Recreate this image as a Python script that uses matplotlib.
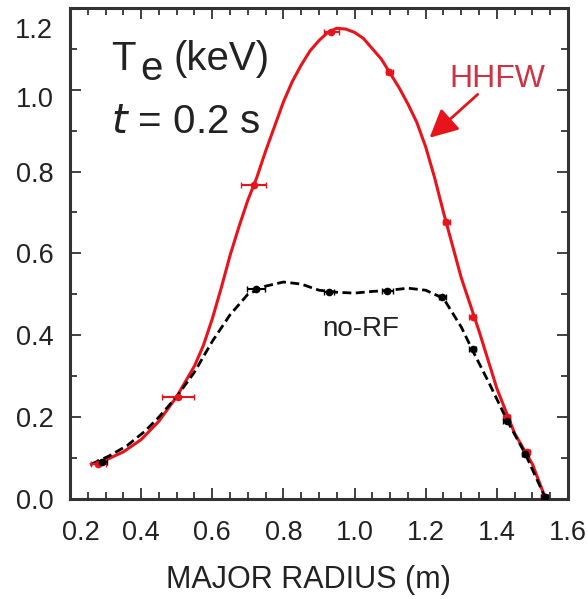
import numpy as np
import matplotlib
matplotlib.use('Agg')
import matplotlib.pyplot as plt
import matplotlib.ticker as mticker
import matplotlib.transforms as mtrans

matplotlib.rcParams.update({'font.family': ['Liberation Sans', 'DejaVu Sans'], 'font.size': 19})

# HHFW profile (smooth fit)
hh_x = [0.26, 0.30, 0.35, 0.40, 0.45, 0.50, 0.55, 0.575, 0.60, 0.625, 0.65, 0.675, 0.70,
        0.725, 0.75, 0.775, 0.80, 0.825, 0.85, 0.875, 0.90, 0.925, 0.95, 0.975, 1.00,
        1.025, 1.05, 1.075, 1.10, 1.125, 1.15, 1.175, 1.20, 1.225, 1.25, 1.30, 1.35,
        1.40, 1.45, 1.50, 1.535]
hh_y = [0.085, 0.095, 0.115, 0.145, 0.19, 0.25, 0.325, 0.375, 0.44, 0.515, 0.595, 0.665, 0.73,
        0.785, 0.85, 0.91, 0.97, 1.02, 1.06, 1.095, 1.12, 1.14, 1.15, 1.148, 1.14,
        1.125, 1.10, 1.075, 1.04, 1.005, 0.965, 0.92, 0.86, 0.785, 0.70, 0.54, 0.41,
        0.27, 0.16, 0.085, 0.005]
# HHFW measured points
hh_px = [0.28, 0.505, 0.717, 0.935, 1.097, 1.258, 1.332, 1.428, 1.484, 1.535]
hh_py = [0.085, 0.25, 0.768, 1.14, 1.044, 0.676, 0.444, 0.20, 0.115, 0.005]
hh_xerr = [0.02, 0.045, 0.035, 0.02, 0.01, 0.01, 0.01, 0.01, 0.01, 0.01]

# no-RF profile
nr_x = [0.26, 0.31, 0.36, 0.41, 0.45, 0.50, 0.55, 0.60, 0.65, 0.70, 0.75, 0.80, 0.85,
        0.90, 0.95, 1.00, 1.05, 1.10, 1.15, 1.20, 1.25, 1.30, 1.33, 1.38, 1.43, 1.48, 1.535]
nr_y = [0.085, 0.105, 0.13, 0.165, 0.20, 0.25, 0.31, 0.385, 0.45, 0.50, 0.52, 0.53, 0.525,
        0.51, 0.505, 0.503, 0.507, 0.51, 0.515, 0.51, 0.49, 0.42, 0.366, 0.28, 0.19, 0.11, 0.005]
nr_px = [0.29, 0.722, 0.928, 1.092, 1.247, 1.332, 1.428, 1.48, 1.535]
nr_py = [0.09, 0.512, 0.505, 0.507, 0.493, 0.366, 0.19, 0.11, 0.005]
nr_xerr = [0.015, 0.025, 0.015, 0.015, 0.01, 0.01, 0.01, 0.01, 0.01]

red = '#e8141c'
ink = '#222222'

fig = plt.figure(figsize=(5.88, 5.99), dpi=100, facecolor='white')
ax = fig.add_axes([0.119, 0.167, 0.847, 0.820])

ax.plot(hh_x, hh_y, color=red, lw=2.2, zorder=3)
ax.errorbar(hh_px, hh_py, xerr=hh_xerr, fmt='o', ms=4.5, color=red, ecolor=red,
            elinewidth=1.5, capsize=2.5, zorder=4)
ax.plot(nr_x, nr_y, color='black', lw=2.0, ls=(0, (3.2, 1.6)), zorder=3)
ax.errorbar(nr_px, nr_py, xerr=nr_xerr, fmt='o', ms=4.5, color='black', ecolor='black',
            elinewidth=1.5, capsize=2.5, zorder=4)

ax.set_xlim(0.2, 1.6)
ax.set_ylim(0.0, 1.2)
ax.xaxis.set_major_locator(mticker.MultipleLocator(0.2))
ax.xaxis.set_minor_locator(mticker.MultipleLocator(0.05))
ax.yaxis.set_major_locator(mticker.MultipleLocator(0.2))
ax.yaxis.set_minor_locator(mticker.MultipleLocator(0.1))
ax.xaxis.set_major_formatter(mticker.FormatStrFormatter('%.1f'))
ax.yaxis.set_major_formatter(mticker.FormatStrFormatter('%.1f'))
ax.tick_params(which='both', direction='in', top=True, right=True, width=1.3, color='#333333')
ax.tick_params(which='major', length=8, labelsize=19.5, labelcolor=ink)
ax.tick_params(which='minor', length=5)
ax.tick_params(axis='x', which='major', pad=15)
ax.tick_params(axis='y', which='major', pad=12)
for s in ax.spines.values():
    s.set_linewidth(2.2)
    s.set_color('#333333')

ax.set_xlabel('MAJOR RADIUS (m)', fontsize=22, color=ink, labelpad=14)
ax.xaxis.set_label_coords(0.478, -0.135)

# nudge a few tick labels like in the original figure
fig.canvas.draw()
shifts = {'0.2': (11, 0)}
for t in ax.xaxis.get_major_ticks():
    if t.label1.get_text() in shifts:
        dx, dy = shifts[t.label1.get_text()]
        t.label1.set_transform(t.label1.get_transform() +
                               mtrans.ScaledTranslation(dx / 100, dy / 100, fig.dpi_scale_trans))
yshifts = {'1.2': -20, '1.0': -7}
for t in ax.yaxis.get_major_ticks():
    if t.label1.get_text() in yshifts:
        dy = yshifts[t.label1.get_text()]
        t.label1.set_transform(t.label1.get_transform() +
                               mtrans.ScaledTranslation(0, dy / 100, fig.dpi_scale_trans))

ax.text(0.316, 1.049, 'T', fontsize=29, va='baseline', ha='left', color=ink)
ax.text(0.398, 1.024, 'e', fontsize=29, va='baseline', ha='left', color=ink)
ax.text(0.491, 1.049, '(keV)', fontsize=29, va='baseline', ha='left', color=ink)
ax.text(0.316, 0.895, r'$\it{t}$ = 0.2 s', fontsize=29, va='baseline', ha='left', color=ink)
ax.text(1.401, 1.007, 'HHFW', fontsize=23, color='#cc3344', ha='center', va='baseline')
ax.text(1.018, 0.415, 'no-RF', fontsize=20, color=ink, ha='center', va='center')
ax.annotate('', xy=(1.205, 0.878), xytext=(1.352, 0.993),
            arrowprops=dict(arrowstyle='-|>,head_length=0.9,head_width=0.45', color=red, lw=2))

fig.savefig('out.png', dpi=100)
